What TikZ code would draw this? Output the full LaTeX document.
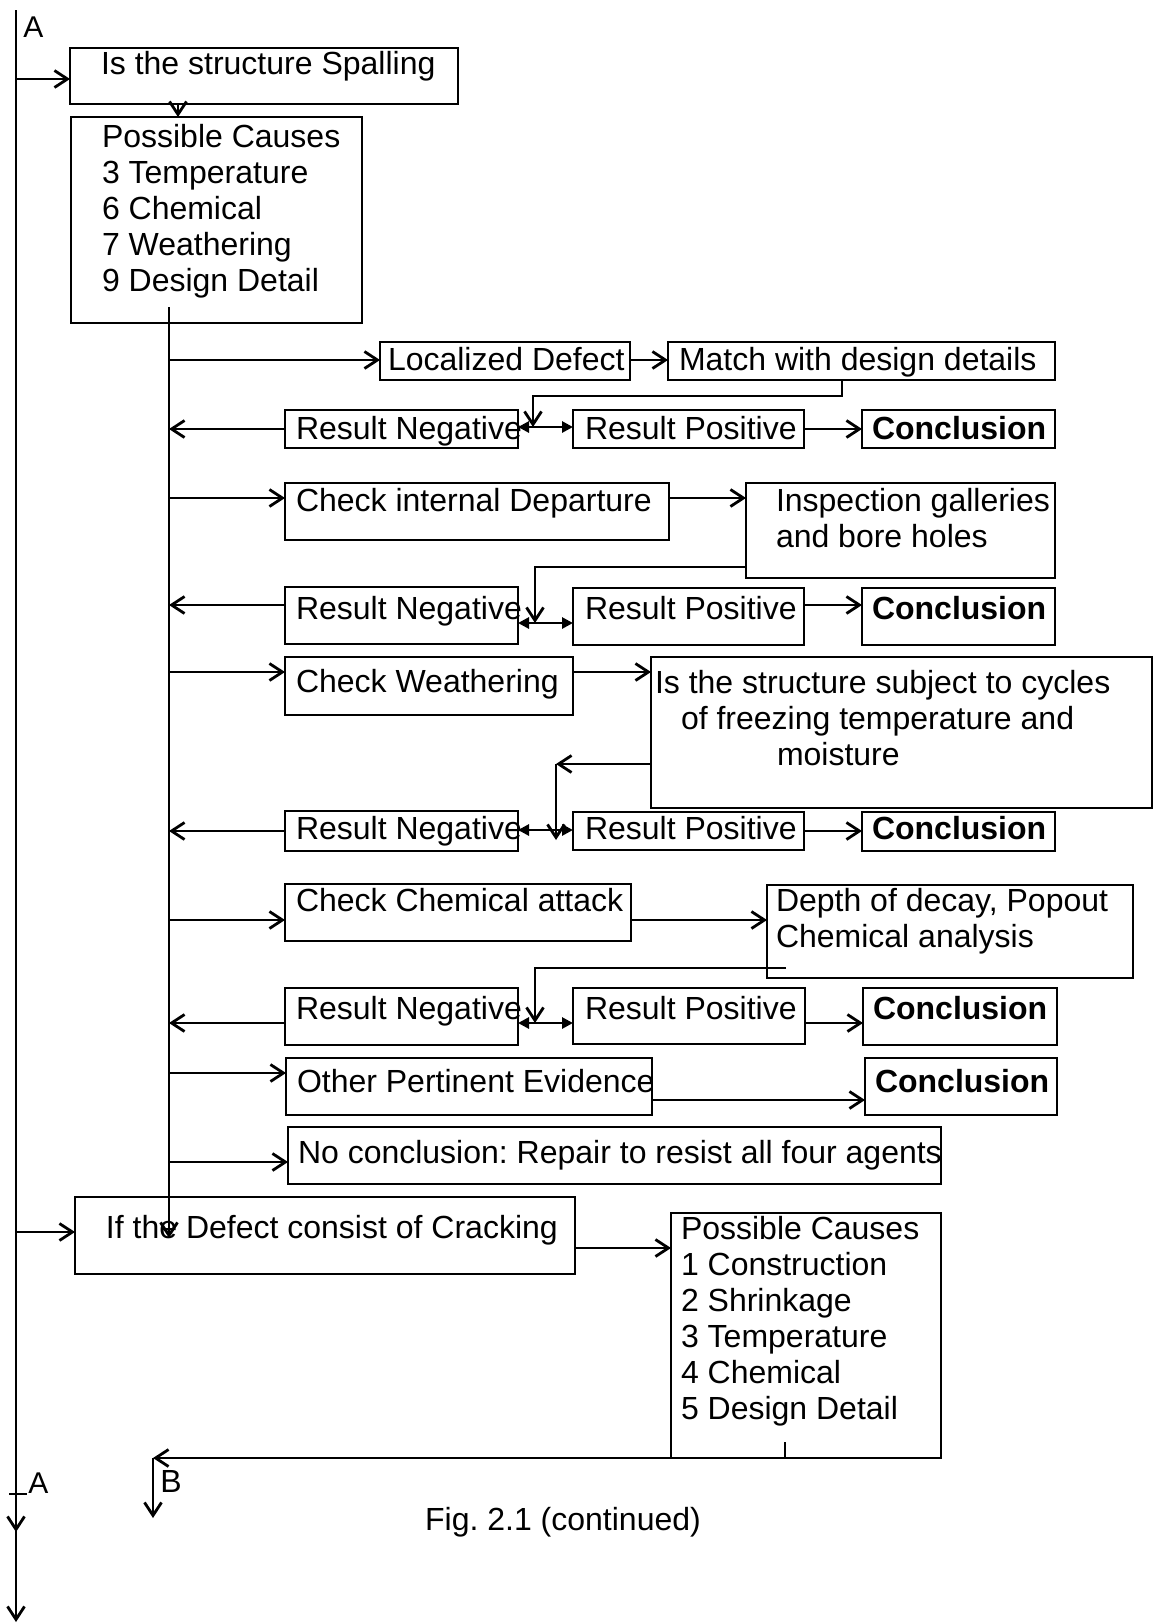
\documentclass[tikz,border=0pt]{standalone}
\usepackage{fontspec}
\setmainfont{Liberation Sans}
\usetikzlibrary{arrows.meta,calc}

% one drawing unit = half a point
\newdimen\pxu \pxu=0.5pt
% \bt[first baseline]{width}{height}{indent}{lines}: text block pinned to the top left of a box
\newcommand{\bt}[5][26]{\parbox[t][#3\pxu][t]{#2\pxu}{\hspace*{#4\pxu}\begin{tabular}[t]{@{}l@{}}\rule{0pt}{#1\pxu}#5\end{tabular}}}
\frenchspacing

\tikzset{
  ln/.style={line width=1.4pt},
  bx/.style={draw, line width=1.4pt, inner sep=0pt, outer sep=0pt, anchor=north west},
  arr/.style={ln, -{Straight Barb[length=6.5pt,width=8.5pt]}},
  tri/.style={ln, {Triangle[length=5.5pt,width=5.5pt]}-{Triangle[length=5.5pt,width=5.5pt]}},
  lbl/.style={inner sep=0pt, anchor=base west}
}

\begin{document}
\begin{tikzpicture}[x=0.5pt, y=-0.5pt, font=\fontsize{16pt}{18pt}\selectfont]
\useasboundingbox (0,0) rectangle (1155,1624);

% ---- boxes ----
\node[bx] (spall) at (70,48)   {\bt{388}{56}{31}{Is the structure Spalling}};
\node[bx] (pc1)   at (71,117)  {\bt[30]{291}{206}{31}{Possible Causes\\3 Temperature\\6 Chemical\\7 Weathering\\9 Design Detail}};

\node[bx] (loc)   at (380,342) {\bt[28]{250}{38}{8}{Localized Defect}};
\node[bx] (match) at (668,342) {\bt[28]{387}{38}{11}{Match with design details}};

\node[bx] (rn2)   at (285,410) {\bt[29]{233}{38}{11}{Result Negative}};
\node[bx] (rp2)   at (573,410) {\bt[29]{231}{38}{12}{Result Positive}};
\node[bx] (con2)  at (862,410) {\bt[29]{193}{38}{10}{\bfseries Conclusion}};

\node[bx] (cid)   at (285,483) {\bt[28]{384}{57}{11}{Check internal Departure}};
\node[bx] (insp)  at (746,483) {\bt[28]{309}{95}{30}{Inspection galleries\\and bore holes}};

\node[bx] (rn4)   at (285,587) {\bt[32]{233}{57}{11}{Result Negative}};
\node[bx] (rp4)   at (573,588) {\bt[31]{231}{57}{12}{Result Positive}};
\node[bx] (con4)  at (862,588) {\bt[31]{193}{57}{10}{\bfseries Conclusion}};

\node[bx] (cw)    at (285,657) {\bt[35]{288}{58}{11}{Check Weathering}};
\node[bx] (is)    at (651,657) {\bt[36]{501}{151}{4}{Is the structure subject to cycles\\\hspace*{26\pxu}of freezing temperature and\\\hspace*{122\pxu}moisture}};

\node[bx] (rn6)   at (285,811) {\bt[28]{233}{40}{11}{Result Negative}};
\node[bx] (rp6)   at (573,812) {\bt[27]{231}{38}{12}{Result Positive}};
\node[bx] (con6)  at (862,812) {\bt[27]{193}{39}{10}{\bfseries Conclusion}};

\node[bx] (cca)   at (285,884) {\bt[27]{346}{57}{11}{Check Chemical attack}};
\node[bx] (depth) at (767,885) {\bt[26]{366}{93}{9}{Depth of decay, Popout\\Chemical analysis}};

\node[bx] (rn8)   at (285,988) {\bt[31]{233}{57}{11}{Result Negative}};
\node[bx] (rp8)   at (573,988) {\bt[31]{232}{56}{12}{Result Positive}};
\node[bx] (con8)  at (863,988) {\bt[31]{194}{57}{10}{\bfseries Conclusion}};

\node[bx] (ope)   at (286,1058) {\bt[34]{366}{57}{11}{Other Pertinent Evidence}};
\node[bx] (con9)  at (865,1058) {\bt[34]{192}{57}{10}{\bfseries Conclusion}};

\node[bx] (nc)    at (288,1127) {\bt[36]{653}{57}{10}{No conclusion: Repair to resist all four agents}};

\node[bx] (ifb)   at (75,1197)  {\bt[41]{500}{77}{31}{If the Defect consist of Cracking}};
\node[bx] (pc2)   at (671,1213) {\bt[26]{270}{245}{10}{Possible Causes\\1 Construction\\2 Shrinkage\\3 Temperature\\4 Chemical\\5 Design Detail}};

% ---- labels ----
\node[lbl, font=\fontsize{15pt}{17pt}\selectfont] (la1) at (23,37) {A};
\node[lbl, font=\fontsize{15pt}{17pt}\selectfont] (la2) at (28,1493) {A};
\node[lbl] (lb) at (160,1492) {B};
\node[inner sep=0pt, anchor=base] (cap) at (563,1530) {Fig. 2.1 (continued)};

% ---- main line A ----
\coordinate (mTop) at (16,10);
\coordinate (mMid) at (16,1532);
\coordinate (mBot) at (16,1622);
\coordinate (tkL) at (9,1494);
\coordinate (tkR) at (27,1494);
\draw[arr] (mTop) -- (mMid);
\draw[arr] (mTop) -- (mBot);
\draw[ln] (tkL) -- (tkR);

\coordinate (spallIn) at ($(spall.north west)+(0,31)$);
\draw[arr] (mTop |- spallIn) -- (spallIn);
\draw[arr] ($(spall.south west)+(108,0)$) -- ($(pc1.north west)+(107,0)$);

% ---- spine below the causes ----
\coordinate (spT) at ($(pc1.south west)+(98,-16)$);
\coordinate (spB) at ($(ifb.north west)+(94,41)$);
\draw[arr] (spT) -- (spB);

% localized defect
\coordinate (locIn) at ($(loc.north west)+(0,18)$);
\draw[arr] (spT |- locIn) -- (locIn);
\draw[arr] (loc.east |- locIn) -- (match.west |- locIn);
\coordinate (m1) at ($(match.south west)+(174,0)$);
\coordinate (j2) at ($(rn2.north east)+(15,17)$);
\draw[arr] (m1) -- ($(m1)+(0,16)$) -| (j2);
\draw[tri] (rn2.east |- j2) -- (rp2.west |- j2);
\draw[arr] (rn2.west) -- (spT |- rn2.west);
\draw[arr] (rp2.east) -- (con2.west |- rp2.east);

% internal departure
\coordinate (cidIn) at ($(cid.north west)+(0,15)$);
\draw[arr] (spT |- cidIn) -- (cidIn);
\draw[arr] (cid.east |- cidIn) -- (insp.west |- cidIn);
\coordinate (i1) at ($(insp.south west)+(0,-11)$);
\coordinate (j4) at ($(rn4.north east)+(17,36)$);
\draw[arr] (i1) -| (j4);
\draw[tri] (rn4.east |- j4) -- (rp4.west |- j4);
\coordinate (rn4Out) at ($(rn4.north west)+(0,18)$);
\draw[arr] (rn4Out) -- (spT |- rn4Out);
\coordinate (rp4Out) at ($(rp4.north east)+(0,17)$);
\draw[arr] (rp4Out) -- (con4.west |- rp4Out);

% weathering
\coordinate (cwIn) at ($(cw.north west)+(0,15)$);
\draw[arr] (spT |- cwIn) -- (cwIn);
\draw[arr] (cw.east |- cwIn) -- (is.west |- cwIn);
\coordinate (c6) at ($(is.north west)+(-95,107)$);
\coordinate (j6) at ($(c6)+(0,76)$);
\draw[arr] (is.west |- c6) -- (c6);
\draw[arr] (c6) -- (j6);
\coordinate (d6) at ($(rn6.north east)+(0,19)$);
\draw[tri] (d6) -- (rp6.west |- d6);
\draw[arr] (rn6.west) -- (spT |- rn6.west);
\draw[arr] (rp6.east) -- (con6.west |- rp6.east);

% chemical attack
\coordinate (ccaIn) at ($(cca.north west)+(0,36)$);
\draw[arr] (spT |- ccaIn) -- (ccaIn);
\draw[arr] (cca.east |- ccaIn) -- (depth.west |- ccaIn);
\coordinate (d1) at ($(depth.south west)+(19,-10)$);
\coordinate (j8) at ($(rn8.north east)+(17,35)$);
\draw[arr] (d1) -| (j8);
\draw[tri] (rn8.east |- j8) -- (rp8.west |- j8);
\coordinate (rn8Out) at ($(rn8.north west)+(0,35)$);
\draw[arr] (rn8Out) -- (spT |- rn8Out);
\coordinate (rp8Out) at ($(rp8.north east)+(0,35)$);
\draw[arr] (rp8Out) -- (con8.west |- rp8Out);

% other evidence and no conclusion
\coordinate (opeIn) at ($(ope.north west)+(0,15)$);
\draw[arr] (spT |- opeIn) -- (opeIn);
\coordinate (opeOut) at ($(ope.north east)+(0,42)$);
\draw[arr] (opeOut) -- (con9.west |- opeOut);
\coordinate (ncIn) at ($(nc.north west)+(0,35)$);
\draw[arr] (spT |- ncIn) -- (ncIn);

% cracking
\coordinate (ifIn) at ($(ifb.north west)+(0,35)$);
\draw[arr] (mTop |- ifIn) -- (ifIn);
\coordinate (ifOut) at ($(ifb.north east)+(0,51)$);
\draw[arr] (ifOut) -- (pc2.west |- ifOut);

% on to B
\coordinate (t1) at ($(pc2.south west)+(114,-16)$);
\coordinate (t2) at ($(pc2.south west)+(114,0)$);
\coordinate (bc) at (153,1458);
\coordinate (be) at (153,1518);
\draw[ln] (t1) -- (t2);
\draw[arr] (t2) -- (bc);
\draw[arr] (bc) -- (be);
\end{tikzpicture}
\end{document}
